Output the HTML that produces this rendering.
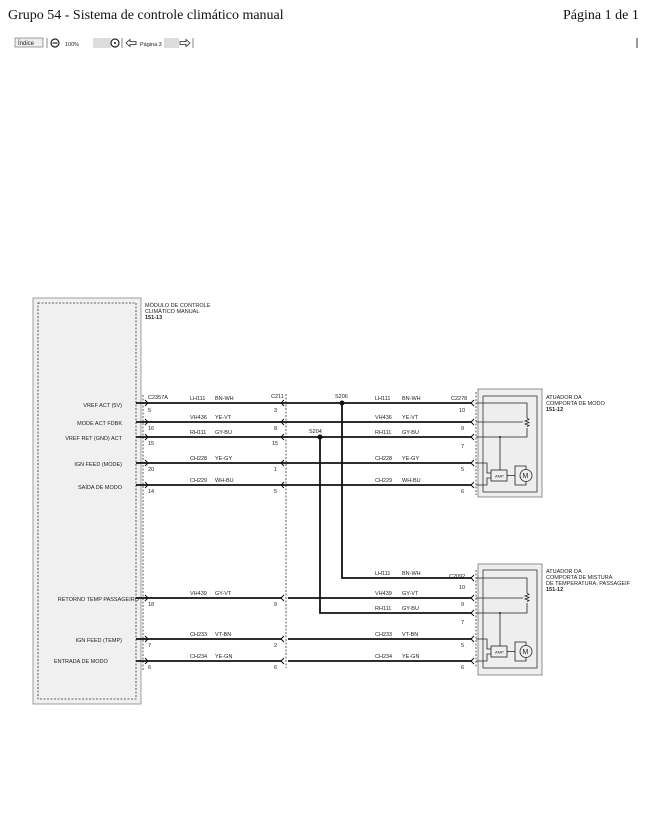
<!DOCTYPE html>
<html><head><meta charset="utf-8"><style>
html,body{margin:0;padding:0;background:#fff;width:648px;height:835px;overflow:hidden}
svg{display:block}
.t{font-family:"Liberation Sans",sans-serif;font-size:5.5px;fill:#222}
.s{font-family:"Liberation Serif",serif;font-size:14px;fill:#111}
.w{stroke:#111;stroke-width:1.8;fill:none}
.thin{stroke:#222;stroke-width:0.8;fill:none}
.d{stroke:#333;stroke-width:0.8;stroke-dasharray:2,1.5;fill:none}
</style></head><body>
<svg width="648" height="835" viewBox="0 0 648 835" xmlns="http://www.w3.org/2000/svg">
<text x="8" y="19" class="s">Grupo 54 - Sistema de controle climático manual</text>
<text x="563" y="19" class="s">Página 1 de 1</text>
<line x1="637" y1="38" x2="637" y2="48" stroke="#333" stroke-width="1"/>
<!-- toolbar -->
<rect x="15" y="38" width="28" height="9" fill="#eee" stroke="#777" stroke-width="0.7"/>
<text x="18" y="45" class="t" style="font-size:6px">Índice</text>
<line x1="47" y1="38" x2="47" y2="48" stroke="#555" stroke-width="0.7"/>
<circle cx="55" cy="43" r="4" fill="none" stroke="#222" stroke-width="1.2"/><line x1="52.5" y1="43" x2="57.5" y2="43" stroke="#222" stroke-width="1.2"/>
<text x="65" y="46" class="t">100%</text>
<rect x="93" y="38" width="18" height="10" fill="#ddd"/>
<circle cx="115" cy="43" r="4" fill="none" stroke="#222" stroke-width="1.2"/><circle cx="115" cy="43" r="1" fill="#222"/>
<line x1="122" y1="38" x2="122" y2="48" stroke="#555" stroke-width="0.7"/>
<path d="M126 43 L130 39.5 V41.5 H136 V44.5 H130 V46.5 Z" fill="none" stroke="#222" stroke-width="0.8"/>
<text x="140" y="46" class="t">Página 3</text>
<rect x="164" y="38" width="15" height="10" fill="#ddd"/>
<path d="M190 43 L186 39.5 V41.5 H180 V44.5 H186 V46.5 Z" fill="none" stroke="#222" stroke-width="0.8"/>
<line x1="193" y1="38" x2="193" y2="48" stroke="#555" stroke-width="0.7"/>

<!-- module -->
<rect x="33" y="298" width="108" height="406" fill="#f0f0f0" stroke="#888" stroke-width="0.8"/>
<rect x="38" y="303" width="98" height="396" class="d"/>
<line x1="143" y1="395" x2="143" y2="670" class="d"/>
<text x="145" y="307" class="t">MÓDULO DE CONTROLE</text>
<text x="145" y="313" class="t">CLIMÁTICO MANUAL</text>
<text x="145" y="319" class="t" style="font-weight:bold">151-13</text>

<g class="t" text-anchor="end">
<text x="122" y="407">VREF ACT (5V)</text>
<text x="122" y="425">MODE ACT FDBK</text>
<text x="122" y="440">VREF RET (GND) ACT</text>
<text x="122" y="466">IGN FEED (MODE)</text>
<text x="122" y="489">SAÍDA DE MODO</text>
<text x="139" y="601">RETORNO TEMP PASSAGEIRO</text>
<text x="122" y="642">IGN FEED (TEMP)</text>
</g>
<text x="54" y="663" class="t">ENTRADA DE MODO</text>

<!-- C211 & connectors dashed -->
<line x1="286" y1="394" x2="286" y2="668" class="d"/>
<line x1="476" y1="392" x2="476" y2="495" class="d"/>
<line x1="476" y1="570" x2="476" y2="668" class="d"/>
<text x="148" y="399" class="t">C2357A</text>
<text x="271" y="398" class="t">C211</text>
<text x="335" y="398" class="t">S206</text>
<text x="309" y="433" class="t">S204</text>
<text x="451" y="400" class="t">C2278</text>
<text x="449" y="578" class="t">C2092</text>

<!-- wires top -->
<g class="w">
<path d="M136 403 H472"/><path d="M136 422 H472"/><path d="M136 437 H472"/>
<path d="M136 463 H472"/><path d="M136 485 H472"/>
<path d="M342 403 V578 H472"/><path d="M320 437 V613 H472"/>
<path d="M136 598 H282"/><path d="M288 598 H472"/>
<path d="M136 639 H282"/><path d="M288 639 H472"/>
<path d="M136 661 H282"/><path d="M288 661 H472"/>
</g>
<circle cx="342" cy="403" r="2.5" fill="#111"/>
<circle cx="320" cy="437" r="2.5" fill="#111"/>

<!-- arrows -->
<g fill="none" stroke="#111" stroke-width="1">
<path d="M145 400 L148 403 L145 406"/><path d="M145 419 L148 422 L145 425"/><path d="M145 434 L148 437 L145 440"/><path d="M145 460 L148 463 L145 466"/><path d="M145 482 L148 485 L145 488"/>
<path d="M145 595 L148 598 L145 601"/><path d="M145 636 L148 639 L145 642"/><path d="M145 658 L148 661 L145 664"/>
<path d="M284 400 L281 403 L284 406"/><path d="M284 419 L281 422 L284 425"/><path d="M284 434 L281 437 L284 440"/><path d="M284 460 L281 463 L284 466"/><path d="M284 482 L281 485 L284 488"/>
<path d="M284 595 L281 598 L284 601"/><path d="M284 636 L281 639 L284 642"/><path d="M284 658 L281 661 L284 664"/>
<path d="M474 400 L471 403 L474 406"/><path d="M474 419 L471 422 L474 425"/><path d="M474 434 L471 437 L474 440"/><path d="M474 460 L471 463 L474 466"/><path d="M474 482 L471 485 L474 488"/>
<path d="M474 575 L471 578 L474 581"/><path d="M474 595 L471 598 L474 601"/><path d="M474 610 L471 613 L474 616"/><path d="M474 636 L471 639 L474 642"/><path d="M474 658 L471 661 L474 664"/>
</g>

<!-- wire labels -->
<g class="t">
<text x="190" y="400">LH111</text><text x="215" y="400">BN-WH</text>
<text x="190" y="419">VH436</text><text x="215" y="419">YE-VT</text>
<text x="190" y="434">RH111</text><text x="215" y="434">GY-BU</text>
<text x="190" y="460">CH228</text><text x="215" y="460">YE-GY</text>
<text x="190" y="482">CH229</text><text x="215" y="482">WH-BU</text>
<text x="375" y="400">LH111</text><text x="402" y="400">BN-WH</text>
<text x="375" y="419">VH436</text><text x="402" y="419">YE-VT</text>
<text x="375" y="434">RH111</text><text x="402" y="434">GY-BU</text>
<text x="375" y="460">CH228</text><text x="402" y="460">YE-GY</text>
<text x="375" y="482">CH229</text><text x="402" y="482">WH-BU</text>
<text x="190" y="595">VH439</text><text x="215" y="595">GY-VT</text>
<text x="190" y="636">CH233</text><text x="215" y="636">VT-BN</text>
<text x="190" y="658">CH234</text><text x="215" y="658">YE-GN</text>
<text x="375" y="575">LH111</text><text x="402" y="575">BN-WH</text>
<text x="375" y="595">VH439</text><text x="402" y="595">GY-VT</text>
<text x="375" y="610">RH111</text><text x="402" y="610">GY-BU</text>
<text x="375" y="636">CH233</text><text x="402" y="636">VT-BN</text>
<text x="375" y="658">CH234</text><text x="402" y="658">YE-GN</text>
<!-- pins -->
<text x="148" y="412">5</text><text x="148" y="430">16</text><text x="148" y="445">15</text><text x="148" y="471">20</text><text x="148" y="493">14</text>
<text x="148" y="606">18</text><text x="148" y="647">7</text><text x="148" y="669">6</text>
<text x="274" y="412">3</text><text x="274" y="430">8</text><text x="272" y="445">15</text><text x="274" y="471">1</text><text x="274" y="493">5</text>
<text x="274" y="606">9</text><text x="274" y="647">2</text><text x="274" y="669">6</text>
<text x="459" y="412">10</text><text x="461" y="430">9</text><text x="461" y="448">7</text><text x="461" y="471">5</text><text x="461" y="493">6</text>
<text x="459" y="589">10</text><text x="461" y="606">9</text><text x="461" y="624">7</text><text x="461" y="647">5</text><text x="461" y="669">6</text>
<!-- actuator labels -->
<text x="546" y="399">ATUADOR DA</text><text x="546" y="405">COMPORTA DE MODO</text><text x="546" y="411" style="font-weight:bold">151-12</text>
<text x="546" y="573">ATUADOR DA</text><text x="546" y="579">COMPORTA DE MISTURA</text><text x="546" y="585">DE TEMPERATURA, PASSAGEIF</text><text x="546" y="591" style="font-weight:bold">151-12</text>
</g>

<!-- actuators -->
<g id="a1">
<rect x="478" y="389" width="64" height="108" fill="#eee" stroke="#777" stroke-width="0.8"/>
<rect x="483" y="396" width="54" height="96" fill="none" stroke="#333" stroke-width="0.8"/>
<g class="thin">
<path d="M476 403 H527 V418"/><path d="M476 422 H523"/><path d="M476 437 H527 V428"/>
<path d="M476 463 H487 V473 H491"/><path d="M476 485 H487 V478 H491"/>
<path d="M500 437 V470"/>
<path d="M527 418 l2 1.5 l-4 1.5 l4 1.5 l-4 1.5 l4 1.5 l-2 1"/>
<rect x="491" y="470" width="16" height="11"/>
<path d="M507 475.5 H515 V466 H526 V469"/><path d="M515 475.5 V485 H526 V482"/>
<circle cx="526" cy="475.5" r="6"/>
</g>
<circle cx="500" cy="437" r="1" fill="#222"/>
<text x="495" y="477.5" class="t" style="font-size:4px">AMP</text>
<text x="522.5" y="478" class="t" style="font-size:7px">M</text>
</g>
<g transform="translate(0,175)">
<rect x="478" y="389" width="64" height="111" fill="#eee" stroke="#777" stroke-width="0.8"/>
<rect x="483" y="395" width="54" height="98" fill="none" stroke="#333" stroke-width="0.8"/>
<g class="thin">
<path d="M476 403 H527 V418"/><path d="M476 423 H523"/><path d="M476 438 H527 V428"/>
<path d="M476 464 H487 V474 H491"/><path d="M476 486 H487 V479 H491"/>
<path d="M500 438 V471"/>
<path d="M527 418 l2 1.5 l-4 1.5 l4 1.5 l-4 1.5 l4 1.5 l-2 1"/>
<rect x="491" y="471" width="16" height="11"/>
<path d="M507 476.5 H515 V467 H526 V470"/><path d="M515 476.5 V486 H526 V483"/>
<circle cx="526" cy="476.5" r="6"/>
</g>
<circle cx="500" cy="438" r="1" fill="#222"/>
<text x="495" y="478.5" class="t" style="font-size:4px">AMP</text>
<text x="522.5" y="479" class="t" style="font-size:7px">M</text>
</g>
</svg>
</body></html>
